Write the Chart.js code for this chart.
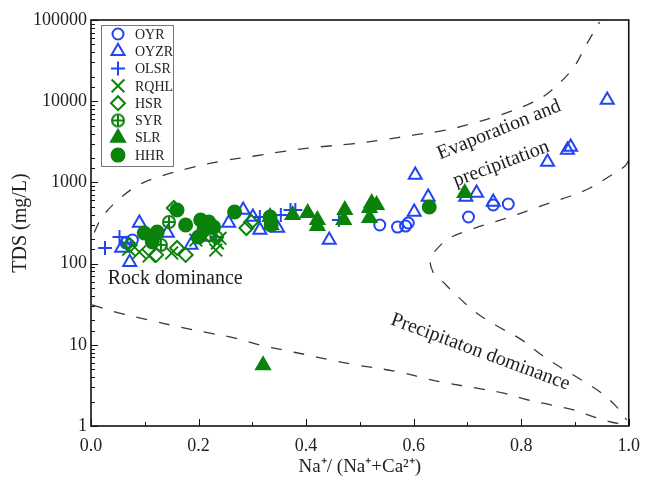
<!DOCTYPE html>
<html>
<head>
<meta charset="utf-8">
<script src="https://cdn.jsdelivr.net/npm/chart.js@4.4.1/dist/chart.umd.min.js"></script>
<style>
  html, body { margin: 0; padding: 0; background: #fff; }
  #wrap { width: 649px; height: 486px; }
</style>
</head>
<body>
<div id="wrap"><canvas id="myChart" width="649" height="486"></canvas></div>
<script>
// sample points, [Na/(Na+Ca), TDS mg/L]
const oyr  = [[0.065,180],[0.077,195],[0.537,299],[0.570,282],[0.585,290],[0.590,316],[0.702,375],[0.748,527],[0.776,542]];
const oyzr = [[0.057,156],[0.072,104],[0.090,316],[0.142,238],[0.186,169],[0.222,213],[0.256,316],[0.283,457],[0.301,375],
              [0.314,259],[0.347,274],[0.443,195],[0.601,432],[0.603,1233],[0.627,661],[0.697,661],[0.717,740],[0.748,574],
              [0.849,1784],[0.886,2506],[0.892,2729],[0.960,10350]];
const olsr = [[0.026,156],[0.053,213],[0.066,180],[0.314,375],[0.353,397],[0.371,457],[0.380,457],[0.461,344]];
const rqhl = [[0.070,150],[0.090,139],[0.108,124],[0.150,135],[0.195,195],[0.232,147],[0.235,180],[0.240,205]];
const hsr  = [[0.072,169],[0.121,128],[0.154,484],[0.160,156],[0.176,128],[0.220,225],[0.289,274],[0.298,325]];
const syr  = [[0.130,170],[0.145,325],[0.233,213]];
const slr  = [[0.320,5.6],[0.333,375],[0.335,299],[0.375,397],[0.403,420],[0.421,344],[0.421,290],[0.472,457],[0.470,344],
              [0.522,557],[0.518,484],[0.518,365],[0.531,527],[0.695,740]];
const hhr  = [[0.099,238],[0.123,245],[0.114,185],[0.160,457],[0.176,299],[0.200,213],[0.204,344],[0.219,325],[0.228,282],
              [0.210,260],[0.267,432],[0.333,375],[0.335,299],[0.629,498]];

// Gibbs boundary curves
const upperCurve = [[0.006,242],[0.020,369],[0.047,579],[0.086,908],[0.132,1206],[0.192,1553],[0.244,1836],[0.304,2115],
                    [0.362,2434],[0.422,2723],[0.481,2965],[0.541,3320],[0.599,3820],[0.659,4395],[0.711,5354],
                    [0.765,6900],[0.817,9400],[0.849,12450],[0.896,25200],[0.922,50900],[0.946,94600]];
const noseCurve  = [[1.0,1888],[0.993,1592],[0.965,1199],[0.928,853],[0.892,680],[0.853,558],[0.816,457],[0.779,375],
                    [0.743,316],[0.704,259],[0.667,207],[0.643,151],[0.631,114],[0.636,78.8],[0.653,61],[0.675,43.5],
                    [0.715,25.3],[0.752,17.5],[0.801,11.5],[0.838,7.49],[0.875,5.18],[0.912,3.69],[0.949,2.55],
                    [0.978,1.71],[0.996,1.19]];
const lowerCurve = [[0.002,31],[0.053,24.6],[0.108,20.2],[0.164,16.6],[0.219,14.0],[0.268,12.1],[0.314,9.95],[0.357,8.63],
                    [0.403,7.49],[0.445,6.5],[0.494,5.64],[0.574,4.62],[0.618,3.9],[0.660,3.39],[0.715,2.94],[0.765,2.55],
                    [0.813,2.09],[0.857,1.81],[0.899,1.57],[0.936,1.29],[0.967,1.12],[0.987,1.06]];

const xTickLabels = ['0.0', '0.2', '0.4', '0.6', '0.8', '1.0'];

const BLUE = '#2244f2';
const GREEN = '#0b820b';
const SERIF = '"Liberation Serif", "Times New Roman", serif';

// circle with a plus inside, for SYR
function circlePlus(color) {
  const c = document.createElement('canvas');
  c.width = 16; c.height = 16;
  const g = c.getContext('2d');
  g.strokeStyle = color;
  g.lineWidth = 2;
  g.beginPath(); g.arc(8, 8, 6, 0, Math.PI * 2); g.stroke();
  g.beginPath(); g.moveTo(2, 8); g.lineTo(14, 8); g.moveTo(8, 2); g.lineTo(8, 14); g.stroke();
  return c;
}

const pts = arr => arr.map(p => ({ x: p[0], y: p[1] }));

function markerSet(label, data, style, color, radius, filled, order) {
  return {
    label,
    data: pts(data),
    pointStyle: style,
    pointRadius: radius,
    pointHoverRadius: radius,
    pointBorderWidth: 2,
    borderColor: color,
    backgroundColor: filled ? color : 'rgba(0,0,0,0)',
    pointBackgroundColor: filled ? color : 'rgba(0,0,0,0)',
    showLine: false,
    order
  };
}

function curveSet(data) {
  return {
    type: 'line',
    label: '',
    data: pts(data),
    showLine: true,
    pointRadius: 0,
    borderColor: '#3a3a3a',
    borderWidth: 1.3,
    borderDash: [11, 12],
    tension: 0.35,
    fill: false,
    order: 20
  };
}

const markers = [
  markerSet('OYR', oyr, 'circle', BLUE, 5.5, false, 8),
  markerSet('OYZR', oyzr, 'triangle', BLUE, 7.5, false, 7),
  markerSet('OLSR', olsr, 'cross', BLUE, 7, false, 6),
  markerSet('RQHL', rqhl, 'crossRot', GREEN, 9, false, 5),
  markerSet('HSR', hsr, 'rectRot', GREEN, 7, false, 4),
  markerSet('SYR', syr, circlePlus(GREEN), GREEN, 6, false, 3),
  markerSet('SLR', slr, 'triangle', GREEN, 8, true, 2),
  markerSet('HHR', hhr, 'circle', GREEN, 6.5, true, 1)
];

const notes = [
  { text: 'Rock dominance', x: 0.031, y: 66, angle: 0, align: 'left' },
  { text: 'Evaporation and', x: 0.759, y: 4420, angle: -22, align: 'center' },
  { text: 'precipitation', x: 0.763, y: 1690, angle: -20.5, align: 'center' },
  { text: 'Precipitaton dominance', x: 0.724, y: 8.15, angle: 20.3, align: 'center' }
];

const isDecade = v => Math.abs(Math.log10(v) - Math.round(Math.log10(v))) < 1e-9;

// frame + inward tick marks like the original plot
const frameTicks = {
  id: 'frameTicks',
  afterDatasetsDraw(chart) {
    const { ctx, chartArea: a, scales: { x, y } } = chart;
    ctx.save();
    ctx.strokeStyle = '#111';
    ctx.lineWidth = 1;
    ctx.beginPath();
    const xs = x.ticks.map(t => t.value);
    xs.forEach((v, i) => {
      const px = Math.round(x.getPixelForValue(v)) + 0.5;
      ctx.moveTo(px, a.bottom); ctx.lineTo(px, a.bottom - 7);
      if (i < xs.length - 1) {
        const mx = Math.round(x.getPixelForValue((v + xs[i + 1]) / 2)) + 0.5;
        ctx.moveTo(mx, a.bottom); ctx.lineTo(mx, a.bottom - 4);
      }
    });
    y.ticks.forEach(t => {
      const py = Math.round(y.getPixelForValue(t.value)) + 0.5;
      const len = isDecade(t.value) ? 7 : 4;
      ctx.moveTo(a.left, py); ctx.lineTo(a.left + len, py);
    });
    ctx.stroke();
    ctx.lineWidth = 1.6;
    ctx.strokeRect(a.left, a.top, a.right - a.left, a.bottom - a.top);
    ctx.restore();
  }
};

const textNotes = {
  id: 'textNotes',
  afterDatasetsDraw(chart) {
    const { ctx, scales: { x, y } } = chart;
    ctx.save();
    ctx.fillStyle = '#1e1e1e';
    ctx.font = '20px ' + SERIF;
    ctx.textBaseline = 'middle';
    notes.forEach(n => {
      ctx.save();
      ctx.translate(x.getPixelForValue(n.x), y.getPixelForValue(n.y));
      ctx.rotate(n.angle * Math.PI / 180);
      ctx.textAlign = n.align;
      ctx.fillText(n.text, 0, 0);
      ctx.restore();
    });
    ctx.restore();
  }
};

const boxLegend = {
  id: 'boxLegend',
  afterDatasetsDraw(chart) {
    const { ctx, chartArea: a } = chart;
    const left = a.left + 10, top = a.top + 5, w = 72, h = 141;
    ctx.save();
    ctx.fillStyle = '#fff';
    ctx.fillRect(left, top, w, h);
    ctx.strokeStyle = '#777';
    ctx.lineWidth = 1;
    ctx.strokeRect(left + 0.5, top + 0.5, w, h);
    ctx.font = '14px ' + SERIF;
    ctx.textBaseline = 'middle';
    markers.forEach((ds, i) => {
      const cy = top + 9 + i * 17.3;
      ctx.fillStyle = ds.pointBackgroundColor;
      ctx.strokeStyle = ds.borderColor;
      ctx.lineWidth = ds.pointBorderWidth;
      Chart.helpers.drawPoint(ctx, {
        pointStyle: ds.pointStyle, radius: ds.pointRadius, borderWidth: ds.pointBorderWidth, rotation: 0
      }, left + 17, cy);
      ctx.fillStyle = '#222';
      ctx.fillText(ds.label, left + 34, cy + 1);
    });
    ctx.restore();
  }
};

const ctx = document.getElementById('myChart').getContext('2d');
const chart = new Chart(ctx, {
  type: 'scatter',
  data: {
    datasets: markers.concat([curveSet(upperCurve), curveSet(noseCurve), curveSet(lowerCurve)])
  },
  options: {
    responsive: false,
    animation: false,
    devicePixelRatio: 1,
    layout: { padding: { left: 0, top: 20, right: 15, bottom: 8 } },
    plugins: { legend: { display: false }, tooltip: { enabled: false } },
    scales: {
      x: {
        type: 'linear', min: 0, max: 1,
        ticks: {
          stepSize: 0.2,
          callback: (v, i) => xTickLabels[i],
          font: { family: SERIF, size: 18 }, color: '#222', padding: 9, maxRotation: 0
        },
        grid: { display: false, drawTicks: false },
        border: { display: false },
        title: {
          display: true, text: 'Na⁺/ (Na⁺+Ca²⁺)',
          font: { family: SERIF, size: 19 }, color: '#222', padding: { top: 2, bottom: 0 }
        },
        afterFit: s => { s.height = 52; }
      },
      y: {
        type: 'logarithmic', min: 1, max: 100000,
        ticks: {
          autoSkip: false,
          callback: v => isDecade(v) ? String(v) : '',
          font: { family: SERIF, size: 18 }, color: '#222', padding: 4
        },
        grid: { display: false, drawTicks: false },
        border: { display: false },
        title: {
          display: true, text: 'TDS (mg/L)',
          font: { family: SERIF, size: 20 }, color: '#222', padding: { top: 9, bottom: 0 }
        },
        afterFit: s => { s.width = 91; }
      }
    }
  },
  plugins: [frameTicks, textNotes, boxLegend]
});
</script>
</body>
</html>
